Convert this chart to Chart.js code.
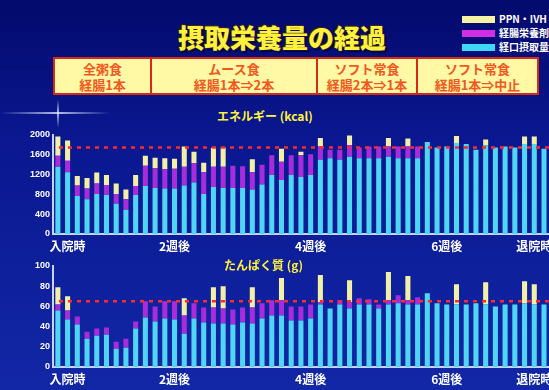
<!DOCTYPE html>
<html>
<head>
<meta charset="utf-8">
<script src="https://cdn.jsdelivr.net/npm/chart.js"></script>
<style>
  html, body { margin: 0; padding: 0; }
  body {
    width: 549px; height: 390px; overflow: hidden; position: relative;
    background: linear-gradient(180deg, #030a6c 0%, #0a1790 35%, #1227a6 100%);
    font-family: "Noto Sans CJK JP", "Liberation Sans", sans-serif;
  }
  .abs { position: absolute; }
  #title {
    left: 0; width: 564px; top: 21px; text-align: center;
    font-size: 26px; font-weight: 900; color: #fff23a; line-height: 32px;
    text-shadow: 1px 1px 0 #20104a, -1px -1px 0 #402800, 2px 2px 1px #000030;
  }
  .box {
    top: 57px; height: 38px; box-sizing: border-box;
    background: #fff9a6; border: 2px solid #d42a1a;
    color: #f2581e; font-weight: 700; font-size: 13px; line-height: 16px;
    text-align: center; padding-top: 2px; white-space: nowrap;
  }
  .leg { left: 462px; width: 33px; height: 7px; }
  .legtxt { left: 499px; color: #fff; font-size: 10px; font-weight: 700; line-height: 10px; white-space: nowrap; }
  .sub { color: #fff23a; font-size: 12px; font-weight: 700; line-height: 14px; white-space: nowrap; }
  canvas { position: absolute; left: 0; }
</style>
</head>
<body>
<div class="abs" style="left:0;top:112px;width:110px;height:2px;background:linear-gradient(90deg,rgba(255,255,255,0),rgba(220,230,255,0.8) 52%,rgba(255,255,255,0));"></div>
<div class="abs" style="left:57px;top:100px;width:2px;height:28px;background:linear-gradient(180deg,rgba(255,255,255,0),rgba(220,230,255,0.8) 45%,rgba(255,255,255,0));"></div>

<div id="title" class="abs">摂取栄養量の経過</div>

<div class="abs box" style="left:53px;width:99px;">全粥食<br>経腸1本</div>
<div class="abs box" style="left:150px;width:168px;">ムース食<br>経腸1本⇒2本</div>
<div class="abs box" style="left:316px;width:102px;">ソフト常食<br>経腸2本⇒1本</div>
<div class="abs box" style="left:416px;width:123px;">ソフト常食<br>経腸1本⇒中止</div>

<div class="abs leg" style="top:16px;background:#f4f2a4;"></div>
<div class="abs legtxt" style="top:14px;">PPN・IVH</div>
<div class="abs leg" style="top:30px;background:#d22ee6;"></div>
<div class="abs legtxt" style="top:28px;">経腸栄養剤</div>
<div class="abs leg" style="top:44px;background:#3fd8f4;"></div>
<div class="abs legtxt" style="top:42px;">経口摂取量</div>

<div class="abs sub" style="left:217px;top:109px;">エネルギー (kcal)</div>
<canvas id="energy" width="549" height="130" style="top:125px;"></canvas>

<canvas id="protein" width="549" height="132" style="top:256px;"></canvas>
<div class="abs sub" style="left:224px;top:258px;">たんぱく質 (g)</div>

<script>
// x軸の目盛り（日数の節目）
var milestoneNames = ['入院時', '2週後', '4週後', '6週後', '退院時'];
var milestoneIndex = [1, 12, 26, 40, 49];
var dayCount = 51;

// エネルギー (kcal)
var kcalOral = [1360, 1250, 770, 700, 810, 790, 610, 490, 790, 970, 930, 920, 920, 980, 1040, 810, 950, 930, 930, 930,
  900, 1000, 1190, 1090, 1190, 1150, 1190, 1500, 1530, 1500, 1560, 1530, 1530, 1530, 1560, 1530, 1530, 1530, 1860, 1750,
  1770, 1840, 1820, 1700, 1790, 1750, 1770, 1750, 1820, 1820, 1720];
var kcalEnteral = [220, 230, 210, 220, 210, 200, 200, 210, 180, 410, 400, 390, 400, 380, 390, 440, 410, 430, 450, 440,
  350, 400, 400, 370, 400, 440, 420, 270, 170, 200, 240, 220, 240, 240, 210, 240, 240, 240, 0, 0,
  0, 0, 0, 0, 0, 0, 0, 0, 0, 0, 0];
var kcalIV = [390, 410, 190, 210, 220, 200, 210, 200, 220, 200, 210, 220, 200, 410, 230, 190, 380, 390, 0, 0,
  260, 0, 0, 260, 0, 70, 0, 170, 0, 0, 190, 0, 0, 0, 170, 0, 160, 0, 0, 0,
  0, 140, 0, 0, 120, 0, 0, 0, 150, 150, 0];
var kcalTarget = 1750;
var kcalTicks = [0, 400, 800, 1200, 1600, 2000];

// たんぱく質 (g)
var protOral = [56, 47, 42, 28, 31, 32, 18, 19, 38, 49, 45, 48, 47, 33, 48, 44, 43, 43, 42, 44,
  43, 48, 51, 51, 46, 46, 48, 62, 58, 62, 58, 62, 62, 58, 62, 63, 62, 62, 73, 63,
  62, 62, 62, 63, 62, 60, 62, 62, 63, 62, 62];
var protEnteral = [6, 9, 8, 7, 7, 7, 7, 9, 7, 16, 15, 17, 18, 18, 15, 15, 16, 15, 15, 15,
  16, 15, 15, 15, 14, 14, 14, 2, 0, 4, 6, 6, 5, 4, 4, 8, 4, 7, 0, 0,
  0, 0, 0, 0, 0, 0, 0, 0, 0, 0, 0];
var protIV = [17, 14, 0, 0, 0, 0, 0, 0, 0, 0, 0, 0, 0, 17, 0, 0, 20, 22, 0, 0,
  20, 0, 0, 22, 0, 0, 0, 27, 0, 0, 22, 0, 0, 0, 28, 0, 24, 0, 0, 0,
  0, 20, 0, 0, 22, 0, 0, 0, 22, 20, 0];
var protTarget = 65;
var protTicks = [0, 20, 40, 60, 80, 100];

var days = [];
for (var i = 0; i < dayCount; i++) {
    var k = milestoneIndex.indexOf(i);
    days.push(k >= 0 ? milestoneNames[k] : '');
}

// 目標量の赤い点線
var targetLinePlugin = {
    id: 'targetLine',
    afterDatasetsDraw: function(chart) {
        var ctx = chart.ctx;
        var area = chart.chartArea;
        var y = chart.scales.y.getPixelForValue(chart.options.plugins.targetLine.value);
        ctx.save();
        ctx.strokeStyle = '#ff2a2a';
        ctx.lineWidth = 2.5;
        ctx.setLineDash([4, 5]);
        ctx.beginPath();
        ctx.moveTo(area.left + 6, y);
        ctx.lineTo(area.right, y);
        ctx.stroke();
        ctx.restore();
    }
};

function makeChart(id, oral, enteral, iv, target, ticks) {
    var ctx = document.getElementById(id).getContext('2d');
    return new Chart(ctx, {
        type: 'bar',
        data: {
            labels: days,
            datasets: [
                { label: '経口摂取量', data: oral, backgroundColor: '#4fd6f2' },
                { label: '経腸栄養剤', data: enteral, backgroundColor: '#a82cdc' },
                { label: 'PPN・IVH', data: iv, backgroundColor: '#f3f0a6' }
            ]
        },
        options: {
            responsive: false,
            animation: false,
            layout: { padding: { top: 10, left: 0, right: 0, bottom: 0 } },
            datasets: { bar: { categoryPercentage: 1, barPercentage: 0.52 } },
            plugins: {
                legend: { display: false },
                tooltip: { enabled: false },
                targetLine: { value: target }
            },
            scales: {
                x: {
                    stacked: true,
                    grid: { display: false, drawTicks: false },
                    border: { display: true, color: '#c9d2ff', width: 2 },
                    ticks: {
                        autoSkip: false, maxRotation: 0, minRotation: 0, padding: 5,
                        color: '#ffffff',
                        font: { family: 'Noto Sans CJK JP', size: 12, weight: 'bold' }
                    },
                    afterFit: function(scale) { scale.height = 21; }
                },
                y: {
                    stacked: true,
                    min: ticks[0],
                    max: ticks[ticks.length - 1],
                    afterBuildTicks: function(scale) {
                        scale.ticks = ticks.map(function(v) { return { value: v }; });
                    },
                    grid: { display: false, drawTicks: false },
                    border: { display: true, color: '#c9d2ff', width: 2 },
                    ticks: {
                        padding: 3,
                        color: '#ffffff',
                        font: { family: 'Liberation Sans', size: 9, weight: 'bold' },
                        callback: function(value) { return String(value); }
                    },
                    afterFit: function(scale) { scale.width = 53; }
                }
            }
        },
        plugins: [targetLinePlugin]
    });
}

makeChart('energy', kcalOral, kcalEnteral, kcalIV, kcalTarget, kcalTicks);
makeChart('protein', protOral, protEnteral, protIV, protTarget, protTicks);
</script>
</body>
</html>
